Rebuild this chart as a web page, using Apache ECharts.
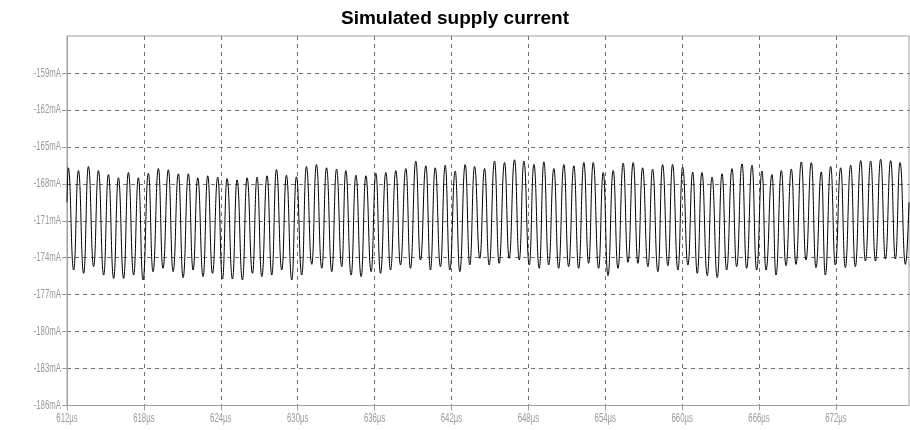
<!DOCTYPE html>
<html>
<head>
<meta charset="utf-8">
<script src="https://cdn.jsdelivr.net/npm/echarts@6/dist/echarts.min.js"></script>
<style>
  html, body { margin: 0; padding: 0; background: #fff; }
  #chart { width: 910px; height: 430px; }
</style>
</head>
<body>
<div id="chart"></div>
<script>
// Supply current waveform, time in µs, current in mA.
// Each oscillation is described by its crest and its trough.
const startPoint = [612.0, -169.5];
const endPoint = [677.7, -169.5];

const peakTimes = [
  612.10, 612.89, 613.67, 614.45, 615.23, 616.01, 616.79, 617.57, 618.35, 619.13,
  619.91, 620.69, 621.47, 622.20, 622.98, 623.76, 624.49, 625.27, 626.05, 626.83,
  627.61, 628.34, 629.12, 629.90, 630.68, 631.46, 632.25, 633.03, 633.75, 634.54,
  635.32, 636.10, 636.88, 637.66, 638.44, 639.22, 640.00, 640.73, 641.51, 642.29,
  643.07, 643.80, 644.58, 645.36, 646.14, 646.92, 647.65, 648.43, 649.21, 649.99,
  650.77, 651.55, 652.33, 653.06, 653.84, 654.62, 655.40, 656.18, 656.91, 657.69,
  658.47, 659.25, 660.04, 660.82, 661.54, 662.33, 663.11, 663.89, 664.67, 665.45,
  666.23, 667.01, 667.74, 668.52, 669.30, 670.08, 670.86, 671.59, 672.37, 673.15,
  673.93, 674.71, 675.49, 676.27, 677.00
];
const peakValues = [
  -166.70, -166.92, -166.59, -166.92, -167.24, -167.51, -167.08, -167.51, -167.14, -166.76,
  -166.86, -167.19, -167.19, -167.51, -167.35, -167.46, -167.57, -167.68, -167.51, -167.46,
  -167.35, -166.85, -167.30, -167.43, -166.59, -166.43, -166.70, -166.81, -166.92, -167.30,
  -167.35, -167.14, -167.08, -166.92, -166.76, -166.16, -166.54, -166.70, -166.49, -166.97,
  -166.43, -166.59, -166.75, -166.16, -166.27, -166.05, -166.16, -166.43, -166.22, -166.76,
  -166.43, -166.54, -166.27, -166.27, -167.08, -166.92, -166.32, -166.27, -166.70, -166.81,
  -166.43, -166.43, -166.65, -167.05, -167.08, -167.46, -167.19, -166.76, -166.38, -166.49,
  -166.97, -167.24, -166.92, -166.81, -166.22, -166.27, -167.03, -166.59, -166.70, -166.49,
  -166.11, -166.16, -166.00, -166.11, -166.27
];

const troughTimes = [
  612.52, 613.30, 614.08, 614.86, 615.64, 616.42, 617.20, 617.93, 618.71, 619.49,
  620.28, 621.06, 621.84, 622.62, 623.35, 624.13, 624.91, 625.69, 626.47, 627.20,
  627.98, 628.76, 629.54, 630.32, 631.10, 631.88, 632.66, 633.44, 634.17, 634.95,
  635.73, 636.46, 637.24, 638.02, 638.80, 639.58, 640.36, 641.14, 641.87, 642.65,
  643.43, 644.21, 644.94, 645.72, 646.50, 647.29, 648.07, 648.85, 649.58, 650.36,
  651.14, 651.92, 652.70, 653.48, 654.21, 654.99, 655.77, 656.55, 657.33, 658.11,
  658.89, 659.67, 660.45, 661.18, 661.96, 662.74, 663.47, 664.25, 665.03, 665.81,
  666.54, 667.32, 668.10, 668.88, 669.66, 670.44, 671.17, 671.95, 672.73, 673.51,
  674.30, 675.08, 675.86, 676.64, 677.42
];
const troughValues = [
  -175.00, -175.27, -174.73, -175.41, -175.68, -175.68, -175.41, -175.81, -175.14, -174.86,
  -175.14, -175.62, -175.00, -175.54, -175.27, -175.73, -175.73, -175.81, -175.27, -175.54,
  -175.41, -175.00, -175.81, -175.41, -174.54, -174.86, -175.14, -174.73, -175.41, -175.54,
  -175.14, -175.27, -175.00, -174.59, -174.86, -174.19, -175.00, -174.73, -175.00, -175.14,
  -174.59, -174.05, -174.59, -174.46, -174.05, -174.19, -174.59, -174.86, -174.59, -174.86,
  -174.73, -174.86, -174.46, -174.86, -175.46, -174.86, -174.38, -174.46, -174.73, -175.14,
  -174.65, -175.00, -174.59, -175.27, -175.46, -175.62, -175.00, -174.73, -174.86, -175.00,
  -175.00, -175.41, -174.65, -174.54, -174.19, -174.81, -175.41, -174.59, -174.81, -174.73,
  -174.27, -174.27, -174.11, -174.11, -174.54
];

// Axis ranges, tick spacing and labelled ticks
const timeMin = 612, timeMax = 677.7, timeStep = 6;
const currentMin = -186, currentMax = -156, currentStep = 3;
const timeTicks = [612, 618, 624, 630, 636, 642, 648, 654, 660, 666, 672];
const currentTicks = [-186, -183, -180, -177, -174, -171, -168, -165, -162, -159];

// Assemble the trace: crests and troughs interleaved in time order
const trace = [startPoint];
peakTimes.forEach((t, i) => trace.push([t, peakValues[i]]));
troughTimes.forEach((t, i) => trace.push([t, troughValues[i]]));
trace.sort((a, b) => a[0] - b[0]);
trace.push(endPoint);

const frameColor = '#a0a0a0';
const labelColor = '#999999';
const labelFont = '13px "Liberation Sans", Arial, sans-serif';
const labelSquash = 0.6;   // narrow tick-label lettering
const gridDash = { color: '#707070', width: 1, type: [4, 4] };

const chart = echarts.init(document.getElementById('chart'), null, { renderer: 'canvas' });
chart.setOption({
  animation: false,
  backgroundColor: '#ffffff',
  title: {
    text: 'Simulated supply current',
    left: 'center',
    top: 4,
    textStyle: {
      fontFamily: '"Liberation Sans", Arial, sans-serif',
      fontWeight: 'bold',
      fontSize: 19,
      color: '#000'
    }
  },
  grid: {
    left: 67,
    right: 1,
    top: 36,
    bottom: 24.5,
    show: true,
    borderColor: frameColor,
    borderWidth: 1,
    backgroundColor: 'transparent'
  },
  xAxis: {
    type: 'value',
    min: timeMin,
    max: timeMax,
    interval: timeStep,
    axisLine: { show: true, lineStyle: { color: frameColor, width: 1 } },
    axisTick: { show: true, length: 5, customValues: timeTicks, lineStyle: { color: frameColor } },
    axisLabel: { show: false },
    splitLine: { show: true, showMinLine: false, showMaxLine: true, lineStyle: gridDash }
  },
  yAxis: {
    type: 'value',
    min: currentMin,
    max: currentMax,
    interval: currentStep,
    axisLine: { show: true, lineStyle: { color: frameColor, width: 1 } },
    axisTick: { show: true, length: 5, customValues: currentTicks, lineStyle: { color: frameColor } },
    axisLabel: { show: false },
    splitLine: { show: true, showMinLine: false, showMaxLine: true, lineStyle: gridDash }
  },
  series: [{
    type: 'line',
    data: trace,
    showSymbol: false,
    symbol: 'none',
    sampling: null,
    smooth: 0.5,
    smoothMonotone: 'x',
    lineStyle: { color: '#000000', width: 1 },
    z: 3
  }]
});

// Tick labels in a narrow lettering, placed through the axis scales
const axisX = chart.convertToPixel({ xAxisIndex: 0 }, timeMin);
const axisY = chart.convertToPixel({ yAxisIndex: 0 }, currentMin);
const tickLabels = [];
currentTicks.forEach(v => {
  tickLabels.push({
    type: 'text',
    x: axisX - 6,
    y: chart.convertToPixel({ yAxisIndex: 0 }, v),
    scaleX: labelSquash,
    silent: true,
    style: { text: v + 'mA', font: labelFont, fill: labelColor, align: 'right', verticalAlign: 'middle' }
  });
});
timeTicks.forEach(v => {
  tickLabels.push({
    type: 'text',
    x: chart.convertToPixel({ xAxisIndex: 0 }, v),
    y: axisY + 6,
    scaleX: labelSquash,
    silent: true,
    style: { text: v + 'µs', font: labelFont, fill: labelColor, align: 'center', verticalAlign: 'top' }
  });
});
chart.setOption({ graphic: tickLabels });
</script>
</body>
</html>
